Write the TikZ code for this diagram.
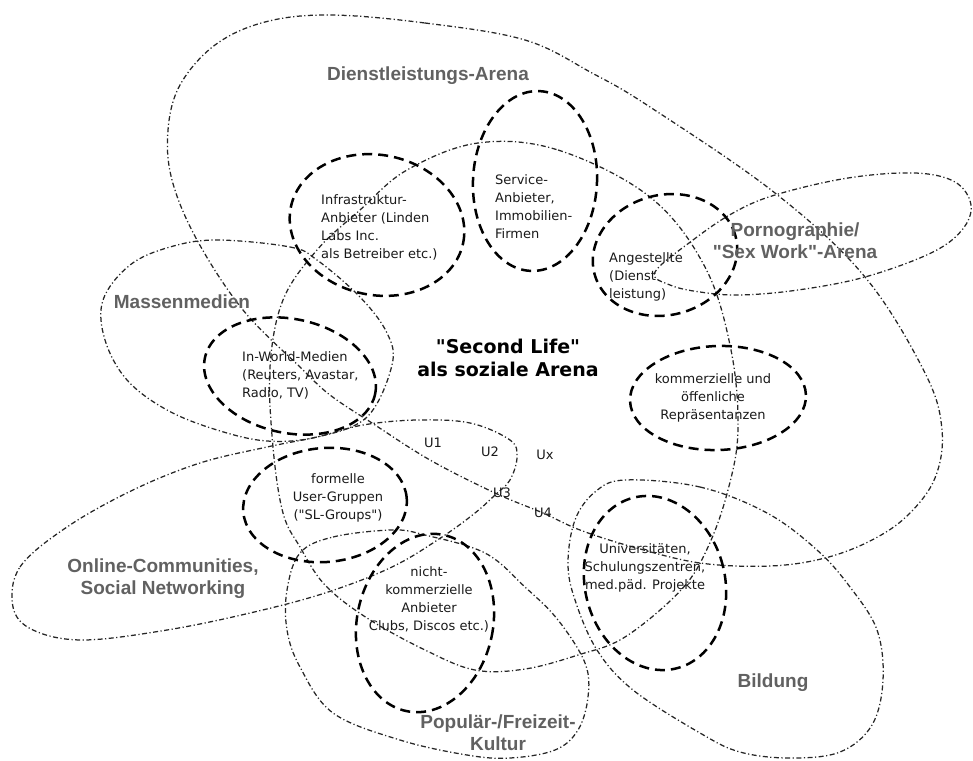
\documentclass[tikz,border=0pt]{standalone}
\usepackage{fontspec}
\setmainfont{DejaVu Sans}[Ligatures=TeXOff]
\newfontfamily\arialfont{Liberation Sans}[Ligatures=TeXOff]
\begin{document}
\begin{tikzpicture}[x=1pt,y=-1pt,
  arenaline/.style={draw=black!85, line width=1.25pt, dash pattern=on 5pt off 2.5pt on 1.2pt off 2.5pt},
  subline/.style={draw=black, line width=2.5pt, dash pattern=on 10pt off 6pt},
  sublbl/.style={font=\fontsize{13}{18}\selectfont, inner sep=0pt, text=black!90},
  arenalbl/.style={font=\arialfont\bfseries\fontsize{19}{22}\selectfont, text=black!62, align=center, inner sep=0pt},
  sltitle/.style={font=\bfseries\fontsize{19}{23}\selectfont, align=center, inner sep=0pt},
]
\useasboundingbox (0,0) rectangle (973,760);

% ---- arenas (dash-dot) ----
% Dienstleistungs-Arena
\draw[arenaline] plot[smooth cycle, tension=0.6] coordinates {
 (330,15) (425,23) (525,40) (592,73) (650,107) (775,193) (865,277) (925,373)
 (942,430) (935,478) (908,515) (872,540) (825,558) (770,566) (700,563) (633,547)
 (580,530) (543,513) (495,493) (430,460) (372,423) (330,395) (300,367) (243,310)
 (197,240) (172,180) (168,130) (180,85) (215,45) (265,22)};
% Second Life
\draw[arenaline] plot[smooth cycle, tension=0.6] coordinates {
 (478,143) (558,150) (650,197) (705,267) (731,350) (738,430) (728,490) (708,547)
 (681,590) (625,637) (578,655) (525,669) (475,670) (425,650) (367,618) (325,585)
 (300,547) (283,513) (273,447) (270,367) (283,300) (317,250) (360,210) (407,170)};
% Massenmedien
\draw[arenaline] plot[smooth cycle, tension=0.6] coordinates {
 (217,240) (290,247) (317,260) (360,297) (387,333) (392,365) (367,417) (317,437)
 (267,441) (217,430) (167,410) (127,380) (105,340) (103,300) (130,265) (170,247)};
% Online-Communities
\draw[arenaline] plot[smooth cycle, tension=0.6] coordinates {
 (13,607) (20,567) (67,527) (133,490) (200,463) (267,447) (317,437) (363,425)
 (417,420) (470,423) (510,440) (517,457) (510,480) (495,495) (475,513) (442,537)
 (392,567) (325,593) (250,613) (167,630) (83,640) (33,630)};
% Pornographie
\draw[arenaline] plot[smooth cycle, tension=0.6] coordinates {
 (655,272) (693,240) (733,213) (775,195) (848,178) (915,173) (955,182) (971,205)
 (962,230) (931,253) (865,277) (798,290) (740,295) (700,292) (670,285)};
% Bildung
\draw[arenaline] plot[smooth cycle, tension=0.6] coordinates {
 (625,480) (700,487) (767,513) (817,550) (850,587) (877,630) (883,680) (872,725)
 (840,752) (790,758) (740,752) (700,733) (633,690) (597,650) (575,600) (568,563)
 (575,520) (595,492)};
% Populaer-/Freizeit-Kultur
\draw[arenaline] plot[smooth cycle, tension=0.6] coordinates {
 (300,553) (333,537) (392,530) (425,535) (485,553) (525,587) (558,620) (585,663)
 (588,697) (578,730) (555,750) (510,758) (467,755) (400,740) (333,713) (300,667)
 (287,630) (287,590)};

% ---- actors (dashed) ----
\draw[subline, rotate around={-12:(377,225)}] (377,225) ellipse (88pt and 70pt);
\draw[subline, rotate around={-3:(535,181)}] (535,181) ellipse (62pt and 90pt);
\draw[subline, rotate around={15:(665,255)}] (665,255) ellipse (73pt and 60pt);
\draw[subline, rotate around={2:(718,398)}] (718,398) ellipse (88pt and 52pt);
\draw[subline, rotate around={-12:(290,376)}] (290,376) ellipse (87pt and 57pt);
\draw[subline, rotate around={5:(325,505)}] (325,505) ellipse (82pt and 57pt);
\draw[subline, rotate around={-12:(425,623)}] (425,623) ellipse (68pt and 90pt);
\draw[subline, rotate around={14:(655,583)}] (655,583) ellipse (70pt and 88pt);

% ---- labels ----
\node[arenalbl] (dl) at (428,76) {Dienstleistungs-Arena};
\node[arenalbl] (mm) at (182,302) {Massenmedien};
\node[arenalbl] (po) at (795,241) {Pornographie/\\"Sex Work"-Arena};
\node[arenalbl] (oc) at (163,579) {Online-Communities,\\Social Networking};
\node[arenalbl] (pf) at (498,733) {Populär-/Freizeit-\\Kultur};
\node[arenalbl] (bi) at (773,683) {Bildung};
\node[sltitle] (sl) at (508,358) {"Second Life"\\als soziale Arena};

\node[sublbl, align=left, anchor=west] (inf) at (321,227) {Infrastruktur-\\Anbieter (Linden\\Labs Inc.\\als Betreiber etc.)};
\node[sublbl, align=left, anchor=west] (srv) at (495,207) {Service-\\Anbieter,\\Immobilien-\\Firmen};
\node[sublbl, align=left, anchor=west] (ang) at (609,277) {Angestellte\\(Dienst\\leistung)};
\node[sublbl, align=center] (kom) at (713,398) {kommerzielle und\\öffenliche\\Repräsentanzen};
\node[sublbl, align=left, anchor=west] (iwm) at (242,375) {In-World-Medien\\(Reuters, Avastar,\\Radio, TV)};
\node[sublbl, align=center] (for) at (338,498) {formelle\\User-Gruppen\\("SL-Groups")};
\node[sublbl, align=center] (nko) at (429,599) {nicht-\\kommerzielle\\Anbieter\\Clubs, Discos etc.)};
\node[sublbl, align=center] (uni) at (645,568) {Universitäten,\\Schulungszentren,\\med.päd. Projekte};

\node[sublbl] (u1) at (433,443) {U1};
\node[sublbl] (u2) at (490,452) {U2};
\node[sublbl] (ux) at (545,455) {Ux};
\node[sublbl] (u3) at (502,493) {U3};
\node[sublbl] (u4) at (543,513) {U4};
\end{tikzpicture}
\end{document}
